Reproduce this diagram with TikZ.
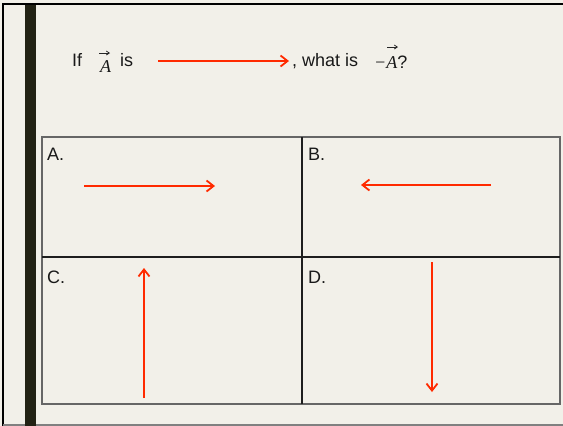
\documentclass[tikz,border=0pt]{standalone}
\usepackage{fontspec}
\setmainfont{Liberation Sans}
\newfontfamily\timesf{Liberation Serif}
\usetikzlibrary{arrows.meta}
\definecolor{bgc}{HTML}{F2F0E9}
\definecolor{vred}{HTML}{FF2A00}
\definecolor{barc}{HTML}{222214}
\definecolor{gridout}{HTML}{666666}
\definecolor{gridin}{HTML}{1E1E1E}
\tikzset{
  txt/.style={inner sep=0pt, anchor=base west, font=\fontsize{18}{20}\selectfont, text=black!90},
  vecl/.style={inner sep=0pt, anchor=base west, font=\fontsize{18}{20}\selectfont\timesf\itshape, text=black!90},
  redarrow/.style={draw=vred, line width=2pt, -{Straight Barb[length=7pt,width=11pt,line width=1.8pt]}},
  smallarrow/.style={draw=black!85, line width=0.8pt, -{Straight Barb[length=3pt,width=4pt]}},
  outerline/.style={draw=gridout, line width=1.3pt},
  innerline/.style={draw=gridin, line width=1.2pt}
}
\begin{document}
\begin{tikzpicture}[x=1pt,y=-1pt]
\useasboundingbox (0,0) rectangle (563,426);
\fill[bgc] (0,0) rectangle (563,426);
% frame
\draw[black, line width=1.5pt] (3,426) -- (3,4) -- (563,4);
\draw[gray, line width=1.2pt] (3,425) -- (563,425);
\fill[barc] (25,5) rectangle (36,426);
% header
\node[txt] (if) at (72,66) {If};
\node[vecl] (va) at (100,72) {A};
\coordinate (va1) at (99,53);
\coordinate (va2) at (110,53);
\draw[smallarrow] (va1) -- (va2);
\node[txt] (is) at (120,66) {is};
\coordinate (h1) at (158,61);
\coordinate (h2) at (289,61);
\draw[redarrow] (h1) -- (h2);
\node[txt] (what) at (292,66) {, what is};
\node[vecl] (mA) at (374,68) {−A\normalfont\fontsize{18}{20}\selectfont ?};
\coordinate (ma1) at (387,47);
\coordinate (ma2) at (398,47);
\draw[smallarrow] (ma1) -- (ma2);
% grid
\draw[outerline] (42,137) rectangle (560,404);
\draw[innerline] (302,137) -- (302,404);
\draw[innerline] (42,257) -- (560,257);
% labels
\node[txt] (la) at (47,160) {A.};
\node[txt] (lb) at (308,160) {B.};
\node[txt] (lc) at (47,283) {C.};
\node[txt] (ld) at (308,283) {D.};
% answer arrows
\coordinate (a1) at (84,186);
\coordinate (a2) at (215,186);
\draw[redarrow] (a1) -- (a2);
\coordinate (b1) at (491,185);
\coordinate (b2) at (361,185);
\draw[redarrow] (b1) -- (b2);
\coordinate (c1) at (144,398);
\coordinate (c2) at (144,268);
\draw[redarrow] (c1) -- (c2);
\coordinate (d1) at (432,262);
\coordinate (d2) at (432,392);
\draw[redarrow] (d1) -- (d2);
\end{tikzpicture}
\end{document}
